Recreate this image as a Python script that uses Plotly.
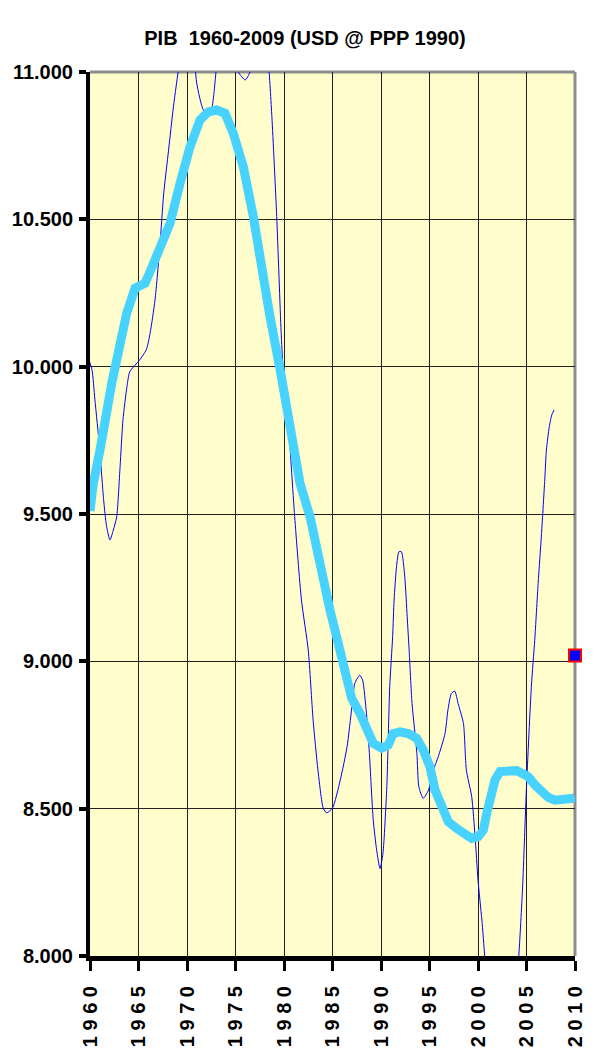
import plotly.graph_objects as go

# ---- data ----
title_text = "PIB\u00a0 1960-2009 (USD @ PPP 1990)"

annual_years = [1959.6, 1960.2, 1960.5, 1961.0, 1961.4, 1961.7, 1962.06, 1962.4, 1962.75, 1963.1,
                1963.4, 1963.8, 1964.1, 1965.1, 1965.8, 1966.2, 1966.7, 1967.2, 1967.6, 1968.1,
                1968.6, 1969.2, 1969.7, 1970.2, 1970.6, 1971.0, 1971.68, 1972.1, 1972.55, 1973.06,
                1973.6, 1974.2, 1974.9, 1975.3, 1976.0, 1976.5, 1977.0, 1977.6, 1978.1, 1978.4,
                1978.75, 1979.25, 1979.7, 1979.9, 1980.4, 1981.1, 1981.8, 1982.5, 1983.0, 1983.5,
                1984.05, 1984.4, 1985.0, 1985.8, 1986.5, 1987.0, 1987.3, 1987.8, 1988.1, 1988.5,
                1988.8, 1989.2, 1989.55, 1989.9, 1990.2, 1990.6, 1990.9, 1991.2, 1991.35, 1991.6,
                1991.85, 1992.1, 1992.45, 1992.7, 1992.9, 1993.2, 1993.7, 1993.9, 1994.35, 1994.9,
                1995.4, 1995.9, 1996.6, 1996.9, 1997.25, 1997.6, 1997.95, 1998.5, 1998.8, 1999.35,
                1999.7, 2000.0, 2000.4, 2000.7, 2001.2, 2001.8, 2002.4, 2003.1, 2003.8, 2004.2,
                2004.6, 2005.0, 2005.5, 2005.85, 2006.2, 2006.55, 2006.9, 2007.05, 2007.35, 2007.6,
                2007.85]
annual_values = [10050, 9990, 9890, 9720, 9550, 9460, 9412, 9445, 9490, 9660,
                 9820, 9930, 9983, 10022, 10057, 10114, 10226, 10407, 10588, 10735,
                 10882, 11030, 11170, 11220, 11120, 10962, 10871, 10860, 10878, 11020,
                 11110, 11150, 11070, 11000, 10973, 11000, 11100, 11150, 11110, 11030,
                 10848, 10509, 10120, 10000, 9830, 9491, 9208, 9038, 8801, 8631,
                 8501, 8486, 8502, 8597, 8710, 8846, 8925, 8953, 8937, 8823,
                 8688, 8462, 8360, 8297, 8348, 8575, 8914, 9084, 9208, 9321,
                 9372, 9372, 9287, 9151, 9038, 8857, 8688, 8575, 8535, 8563,
                 8631, 8676, 8755, 8835, 8891, 8899, 8857, 8789, 8631, 8541,
                 8405, 8258, 8122, 7998, 7820, 7650, 7590, 7650, 7850, 7998,
                 8235, 8575, 8914, 9072, 9265, 9434, 9626, 9717, 9796, 9836,
                 9853]

trend_years = [1960.0, 1960.34, 1961.03, 1961.55, 1962.24, 1963.09, 1963.78, 1964.64, 1965.67, 1966.19,
               1967.22, 1968.25, 1969.28, 1970.31, 1971.34, 1972.2, 1973.06, 1973.92, 1974.77, 1975.8,
               1976.84, 1977.7, 1978.56, 1979.6, 1980.62, 1981.65, 1982.68, 1983.71, 1984.74, 1985.3,
               1985.77, 1986.46, 1986.98, 1987.84, 1988.53, 1989.2, 1990.07, 1990.75, 1991.27, 1991.96,
               1992.81, 1993.68, 1994.36, 1995.05, 1995.57, 1996.26, 1996.94, 1997.8, 1998.66, 1999.35,
               2000.03, 2000.55, 2000.9, 2001.24, 2001.75, 2002.27, 2003.12, 2003.99, 2004.67, 2005.19,
               2005.88, 2006.57, 2007.25, 2007.94, 2008.8, 2009.8, 2010.0]
trend_values = [9510, 9604, 9717, 9830, 9943, 10075, 10181, 10266, 10283, 10322,
                10396, 10486, 10622, 10746, 10837, 10865, 10871, 10860, 10792, 10679,
                10509, 10328, 10169, 9990, 9774, 9604, 9491, 9321, 9174, 9100,
                9027, 8937, 8874, 8823, 8767, 8722, 8705, 8716, 8755, 8761,
                8755, 8739, 8699, 8642, 8563, 8507, 8456, 8433, 8411, 8399,
                8405, 8427, 8484, 8546, 8597, 8626, 8631, 8629, 8618, 8608,
                8580, 8557, 8538, 8529, 8529, 8535, 8538]

marker_year = [2010]
marker_value = [9020]

y_tick_vals = [8000, 8500, 9000, 9500, 10000, 10500, 11000]
y_tick_text = ["8.000", "8.500", "9.000", "9.500", "10.000", "10.500", "11.000"]
x_tick_vals = [1960, 1965, 1970, 1975, 1980, 1985, 1990, 1995, 2000, 2005, 2010]
x_tick_text = [" ".join(str(v)) for v in x_tick_vals]

FONT = "Liberation Sans, Arial, sans-serif"

fig = go.Figure()
fig.add_trace(go.Scatter(x=annual_years, y=annual_values, mode="lines",
                         line=dict(color="#0000FF", width=1, shape="spline", smoothing=0.6),
                         hoverinfo="skip", showlegend=False))
fig.add_trace(go.Scatter(x=trend_years, y=trend_values, mode="lines",
                         line=dict(color="#48D2FF", width=9),
                         showlegend=False))
fig.add_trace(go.Scatter(x=marker_year, y=marker_value, mode="markers",
                         marker=dict(symbol="square", size=12, color="#0000FF",
                                     line=dict(color="#FF0000", width=2)),
                         cliponaxis=False, showlegend=False))

# the page body adds an 8px offset; figure is sized to fit the remaining window
W, H = 588, 1042
L, R, T, B = 82, 21, 64, 94

shapes = [
    # grey top and right border of plot area
    dict(type="line", xref="paper", yref="paper", x0=0, x1=1, y0=1, y1=1,
         line=dict(color="#8C8C8C", width=3), layer="between"),
    dict(type="line", xref="paper", yref="paper", x0=1, x1=1, y0=0, y1=1,
         line=dict(color="#8C8C8C", width=3), layer="between"),
]

fig.update_layout(
    width=W, height=H,
    margin=dict(l=L, r=R, t=T, b=B, autoexpand=False),
    paper_bgcolor="white",
    plot_bgcolor="#FFFDCC",
    title=dict(text=title_text, x=297 / W, xanchor="center", y=1 - 30 / H, yanchor="middle",
               xref="container", yref="container",
               font=dict(family=FONT, size=20, color="black", weight="bold")),
    shapes=shapes,
    showlegend=False,
)

fig.update_xaxes(range=[1960, 2010], tickvals=x_tick_vals, ticktext=x_tick_text,
                 tickangle=-90, showgrid=True, gridcolor="#222222", gridwidth=1,
                 showline=True, linecolor="black", linewidth=5, mirror=False,
                 ticks="outside", ticklen=10, tickwidth=3, tickcolor="black",
                 ticklabelstandoff=7, zeroline=False, automargin=False,
                 tickfont=dict(family=FONT, size=20, color="black", weight="bold"))
fig.update_yaxes(range=[8000, 11000], tickvals=y_tick_vals, ticktext=y_tick_text,
                 showgrid=True, gridcolor="#222222", gridwidth=1,
                 showline=True, linecolor="black", linewidth=4, mirror=False,
                 ticks="outside", ticklen=7, tickwidth=4, tickcolor="black",
                 ticklabelstandoff=2, zeroline=False, automargin=False,
                 tickfont=dict(family=FONT, size=20, color="black", weight="bold"))

fig.write_html("out.html")
